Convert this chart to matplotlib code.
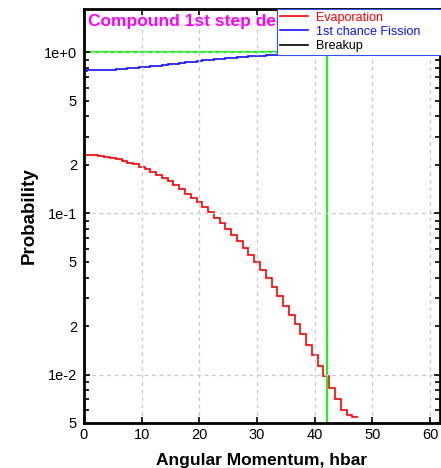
import matplotlib.pyplot as plt
from matplotlib.ticker import FixedLocator, FuncFormatter

plt.rcParams['font.family'] = ['Liberation Sans', 'DejaVu Sans']

# Données
L_edges = [0, 0.5, 1.5, 2.5, 3.5, 4.5, 5.5, 6.5, 7.5, 8.5, 9.5, 10.5, 11.5, 12.5, 13.5,
           14.5, 15.5, 16.5, 17.5, 18.5, 19.5, 20.5, 21.5, 22.5, 23.5, 24.5, 25.5, 26.5,
           27.5, 28.5, 29.5, 30.5, 31.5, 32.5, 33.5, 34.5, 35.5, 36.5, 37.5, 38.5, 39.5,
           40.5, 41.5, 42.5, 43.5, 44.5, 45.5, 46.5, 47.5]

evaporation = [0.232, 0.231, 0.230, 0.228, 0.225, 0.222, 0.218, 0.213, 0.207, 0.202,
               0.195, 0.189, 0.181, 0.174, 0.166, 0.158, 0.150, 0.142, 0.133, 0.125,
               0.117, 0.109, 0.102, 0.094, 0.087, 0.080, 0.073, 0.067, 0.061, 0.055,
               0.050, 0.0446, 0.0395, 0.0349, 0.0306, 0.0268, 0.0233, 0.0205, 0.0178,
               0.0153, 0.0132, 0.0113, 0.0098, 0.0082, 0.0070, 0.0060, 0.00564, 0.00548]

fission = [0.772, 0.773, 0.774, 0.776, 0.779, 0.782, 0.786, 0.791, 0.797, 0.802,
           0.808, 0.814, 0.821, 0.828, 0.835, 0.843, 0.851, 0.859, 0.867, 0.875,
           0.883, 0.891, 0.898, 0.906, 0.913, 0.920, 0.927, 0.933, 0.939, 0.945,
           0.950, 0.955, 0.960, 0.965, 0.969, 0.973, 0.977, 0.980, 0.982, 0.985,
           0.987, 0.989, 0.990, 0.992, 0.993, 0.994, 0.994, 0.995]

L_cut = 42.2
P_ref = 1.0

x_ticks = [0, 10, 20, 30, 40, 50, 60]
y_decades = [1.0, 0.1, 0.01]
decade_labels = {1.0: '1e+0', 0.1: '1e-1', 0.01: '1e-2'}

fig = plt.figure(figsize=(4.41, 4.68), dpi=100)
ax = fig.add_axes([84 / 441, 45 / 468, 356 / 441, 414 / 468])

ax.stairs(evaporation, L_edges, color='#ff0000', lw=1.2, label='Evaporation', baseline=None)
ax.stairs(fission, L_edges, color='#1010ff', lw=1.2, label='1st chance Fission', baseline=None)
ax.plot([], [], color='black', lw=1.2, label='Breakup')

ax.axhline(P_ref, color='#22ee22', lw=1.6, zorder=1)
ax.axvline(L_cut, color='#22ee22', lw=1.6, zorder=1)

ax.set_yscale('log')
ax.set_xlim(0, 61.7)
ax.set_ylim(0.005, 1.86)

ax.xaxis.set_major_locator(FixedLocator(x_ticks))
ax.yaxis.set_major_locator(FixedLocator(y_decades))
minors = [m * d for d in [0.001, 0.01, 0.1, 1.0] for m in range(2, 10)]
ax.yaxis.set_minor_locator(FixedLocator(minors))
ax.yaxis.set_major_formatter(FuncFormatter(lambda v, p: decade_labels.get(v, '')))


def minor_fmt(v, p):
    m = round(v / 10 ** int(f'{v:e}'.split('e')[1]), 3)
    return str(int(m)) if m in (2, 5) else ''


ax.yaxis.set_minor_formatter(FuncFormatter(minor_fmt))

ax.tick_params(which='both', direction='in', top=True, right=True, width=1.2, labelsize=10.5)
ax.tick_params(which='major', length=4)
ax.tick_params(which='minor', length=3.5)
ax.tick_params(axis='x', pad=3.5)
ax.tick_params(axis='y', which='both', pad=5)

for s in ax.spines.values():
    s.set_linewidth(2)

ax.grid(True, which='major', ls=(0, (3, 3)), color='#c8c8c8', lw=0.9)

ax.text(0.011, 0.9686, 'Compound 1st step decay', transform=ax.transAxes,
        color='#ff00ff', fontsize=12.5, fontweight='bold', va='center', ha='left', zorder=3)

ax.set_xlabel('Angular Momentum, hbar', fontsize=12.5, fontweight='bold')
ax.set_ylabel('Probability', fontsize=13.5, fontweight='bold')
ax.xaxis.set_label_coords(0.5, -0.073)
ax.yaxis.set_label_coords(-0.13, 0.5)

leg = ax.legend(loc='upper left', bbox_to_anchor=(277 / 441, 1 - 52 / 468, 170 / 441, 43 / 468),
                bbox_transform=fig.transFigure, mode='expand', fontsize=9,
                borderaxespad=0, borderpad=0.2, labelspacing=0.18, handlelength=2.3,
                handletextpad=0.6, fancybox=False, framealpha=1, edgecolor='#3050ff')
leg.get_frame().set_linewidth(0.8)
for t, c in zip(leg.get_texts(), ['#ff0000', '#1010ff', 'black']):
    t.set_color(c)

plt.savefig('out.png', dpi=100)
